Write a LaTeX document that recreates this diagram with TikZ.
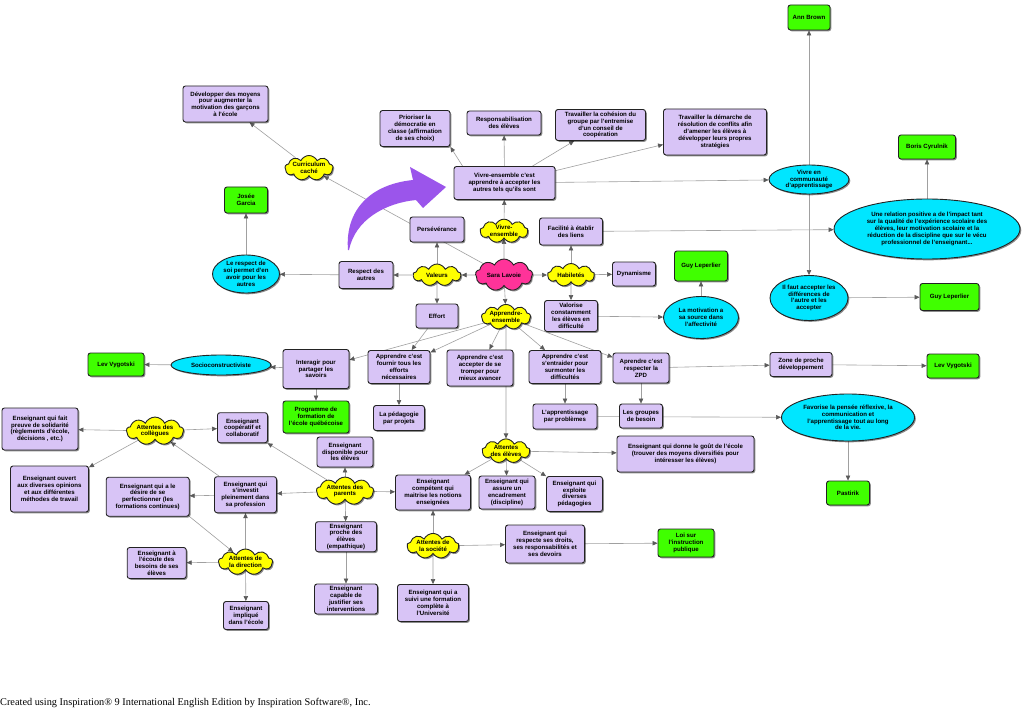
\documentclass[tikz,border=0pt]{standalone}
\usepackage{fontspec}
\setmainfont{Liberation Sans}
\newfontfamily\footfont{Liberation Serif}
\usetikzlibrary{shapes.geometric,shapes.symbols,shadows,arrows.meta}
\definecolor{lav}{RGB}{216,196,246}
\definecolor{grn}{RGB}{64,255,0}
\definecolor{cyn}{RGB}{0,230,255}
\definecolor{ylw}{RGB}{255,255,0}
\definecolor{pnk}{RGB}{255,51,153}
\definecolor{bordc}{RGB}{35,35,35}
\definecolor{edgec}{RGB}{160,160,160}
\definecolor{headc}{RGB}{90,90,90}
\definecolor{purp}{RGB}{155,85,235}
\pgfdeclarelayer{bglayer}
\pgfdeclarelayer{edgelayer}
\pgfsetlayers{bglayer,edgelayer,main}
\tikzset{
 base/.style={draw=bordc, line width=0.9pt, font=\bfseries\fontsize{6.1}{6.8}\selectfont, align=center, inner sep=0.5pt, text=black,
   drop shadow={shadow xshift=1.3pt,shadow yshift=-1.3pt,fill=black,opacity=0.45}},
 box/.style={base, rectangle, rounded corners=2.5pt, fill=lav},
 gbox/.style={base, rectangle, rounded corners=2.5pt, fill=grn},
 ell/.style={base, ellipse, fill=cyn, inner sep=0pt},
 cl/.style={base, cloud, cloud puffs=9, cloud puff arc=130, cloud ignores aspect, fill=ylw, inner sep=0pt},
 wh/.style 2 args={minimum width=#1pt, minimum height=#2pt},
 conn/.style={draw=edgec, line width=0.6pt, -{Triangle[length=5pt,width=4.4pt,color=headc]}}
}
\begin{document}
\begin{tikzpicture}[x=1pt,y=-1pt]
\begin{pgfonlayer}{bglayer}
\fill[white] (0,0) rectangle (1024,711);
\end{pgfonlayer}
\path[use as bounding box] (0,0) rectangle (1024,711);

% top-left
\node[box, wh={85}{36}] (dev) at (225.5,104) {Développer des moyens\\pour augmenter la\\motivation des  garçons\\à l'école};
\node[cl, wh={48}{22}] (curr) at (309,168) {Curriculum\\caché};
\node[gbox, wh={43}{26}] (josee) at (246,200) {Josée\\Garcia};
\node[ell, wh={67}{38}] (soi) at (246,274) {Le respect de\\soi permet d'en\\avoir pour les\\autres};
\node[box, wh={54}{27}] (respect) at (366,275) {Respect des\\autres};
\node[cl, wh={48}{22}] (valeurs) at (437,275) {Valeurs};
\node[box, wh={54}{25}] (pers) at (437,229.5) {Persévérance};
\node[box, wh={42}{24}] (effort) at (437,316) {Effort};
\node[cl, fill=pnk, wh={57}{32}] (sara) at (504,275) {Sara Lavoie};
\node[cl, wh={48}{23}] (vivcl) at (504,231) {Vivre-\\ensemble};
\node[cl, wh={49}{22}] (appcl) at (506,317) {Apprendre-\\ensemble};

% top
\node[box, wh={70}{36}] (prio) at (415,128.5) {Prioriser la\\démocratie  en\\classe (affirmation\\de ses choix)};
\node[box, wh={74}{24}] (resp) at (504,123) {Responsabilisation\\des élèves};
\node[box, wh={90}{31}] (coh) at (600.5,125) {Travailler la cohésion du\\groupe par l'entremise\\d'un conseil de\\coopération};
\node[box, wh={103}{46}] (dem) at (715,132) {Travailler la démarche de\\résolution de conflits  afin\\d'amener les élèves à\\développer leurs propres\\stratégies};
\node[box, wh={101}{33}] (vivc) at (504.5,183) {Vivre-ensemble c'est\\apprendre à accepter les\\autres tels qu'ils sont};
\node[box, wh={63}{27}] (fac) at (571,231.5) {Facilité à établir\\des liens};
\node[cl, wh={47}{23}] (hab) at (571,275) {Habiletés};
\node[box, wh={43}{24}] (dyn) at (634,274) {Dynamisme};
\node[gbox, wh={53}{30}] (guy1) at (701,266) {Guy Leperlier};

% right
\node[gbox, wh={42}{25}] (ann) at (809,17.5) {Ann Brown};
\node[ell, wh={80}{29}] (comm) at (809,179.5) {Vivre en\\communauté\\d'apprentissage};
\node[gbox, wh={57}{24}] (boris) at (927,147) {Boris Cyrulnik};
\node[ell, wh={186}{60}] (big) at (927,229) {Une relation positive a de l'impact  tant\\sur la qualité de l'expérience scolaire des\\élèves, leur motivation scolaire et la\\réduction de la discipline que sur le vécu\\professionnel de l'enseignant...};
\node[ell, wh={78}{45}] (ilfaut) at (809,298) {Il faut accepter les\\différences  de\\l'autre et les\\accepter};
\node[gbox, wh={59}{27}] (guy2) at (949.5,297) {Guy Leperlier};
\node[box, wh={53}{31}] (val) at (571,316) {Valorise\\constamment\\les élèves en\\difficulté};
\node[ell, wh={75}{42}] (motiv) at (701,317.5) {La motivation a\\sa source  dans\\l'affectivité};

% middle row
\node[box, wh={66}{36}] (tromp) at (480,368) {Apprendre c'est\\accepter de se\\tromper pour\\mieux avancer};
\node[box, wh={72}{33}] (entr) at (565,367) {Apprendre c'est\\s'entraider pour\\surmonter les\\difficultés};
\node[box, wh={56}{30}] (zpd) at (641,368) {Aprendre c'est\\respecter la\\ZPD};
\node[box, wh={64}{25}] (probl) at (565,416.5) {L'apprentissage\\par problèmes};
\node[box, wh={43}{24}] (grp) at (641,416) {Les groupes\\de besoin};
\node[box, wh={66}{39}] (inter) at (316,369) {Interagir pour\\partager  les\\savoirs};
\node[box, wh={62}{33}] (fourn) at (399,367) {Apprendre c'est\\fournir tous les\\efforts\\nécessaires};
\node[gbox, wh={66}{32}] (prog) at (316,417) {Programme de\\formation de\\l'école québécoise};
\node[box, wh={51}{25}] (proj) at (399,418) {La pédagogie\\par projets};
\node[box, wh={62}{24}] (zone) at (801,364.5) {Zone de proche\\développement};
\node[gbox, wh={52}{24}] (lev2) at (953,366) {Lev Vygotski};
\node[ell, wh={133}{47}] (fav) at (848,417.5) {Favorise la pensée réflexive, la\\communication et\\l'apprentissage  tout au long\\de la vie.};
\node[gbox, wh={43}{24}] (past) at (848,493) {Pastirik};
\node[gbox, wh={56}{23}] (lev1) at (116,364.5) {Lev Vygotski};
\node[ell, wh={100}{20}] (socio) at (221,365) {Socioconstructiviste};

% lower
\node[cl, wh={48}{24}] (attel) at (506,451) {Attentes\\des élèves};
\node[box, wh={56}{30}] (dispo) at (345,452) {Enseignant\\disponible pour\\les élèves};
\node[cl, wh={57}{24}] (attpar) at (345,491) {Attentes des\\parents};
\node[box, wh={75}{35}] (comp) at (433,492.5) {Enseignant\\compétent qui\\maitrise  les notions\\enseignées};
\node[box, wh={56}{33}] (enc) at (507,492.5) {Enseignant qui\\assure un\\encadrement\\(discipline)};
\node[box, wh={56}{35}] (expl) at (574.5,494) {Enseignant qui\\exploite\\diverses\\pédagogies};
\node[box, wh={137}{36}] (gout) at (685.5,454) {Enseignant qui donne le goût de l'école\\(trouver des moyens diversifiés pour\\intéresser les élèves)};
\node[cl, wh={52}{22}] (attsoc) at (433,546) {Attentes de\\la société};
\node[box, wh={79}{38}] (droits) at (545,544) {Enseignant  qui\\respecte  ses droits,\\ses responsabilités  et\\ses devoirs};
\node[gbox, wh={56}{28}] (loi) at (686,543) {Loi sur\\l'instruction\\publique};
\node[box, wh={71}{37}] (suivi) at (433,603) {Enseignant qui a\\suivi une formation\\complète à\\l'Université};
\node[box, wh={76}{42}] (solid) at (40,429) {Enseignant qui fait\\preuve de  solidarité\\(règlements d'école,\\décisions , etc.)};
\node[cl, wh={57}{24}] (attcol) at (155,431) {Attentes des\\collègues};
\node[box, wh={50}{30}] (coop) at (242.5,427.7) {Enseignant\\coopératif et\\collaboratif};
\node[box, wh={78}{46}] (ouvert) at (49.5,489) {Enseignant  ouvert\\aux diverses opinions\\et aux différentes\\méthodes de travail};
\node[box, wh={83}{39}] (desir) at (147.7,496.7) {Enseignant qui a le\\désire de se\\perfectionner (les\\formations continues)};
\node[box, wh={62}{36}] (invest) at (245.5,494.7) {Enseignant qui\\s'investit\\pleinement  dans\\sa profession};
\node[cl, wh={54}{26}] (attdir) at (245.5,562) {Attentes de\\la direction};
\node[box, wh={59}{31}] (ecoute) at (156.7,563) {Enseignant  à\\l'écoute des\\besoins de ses\\élèves};
\node[box, wh={45}{28}] (impl) at (246,615.5) {Enseignant\\impliqué\\dans l'école};
\node[box, wh={61}{30}] (proche) at (346,536.7) {Enseignant\\proche des\\élèves\\(empathique)};
\node[box, wh={63}{30}] (justif) at (346,599) {Enseignant\\capable de\\justifier  ses\\interventions};

% purple arrow
\fill[purp] (348,250) .. controls (345,215) and (365,185) .. (413,180) -- (410,167) -- (446,187) -- (423,208) -- (416,200) .. controls (385,203) and (355,220) .. (349,250) -- cycle;

% footer
\node[anchor=west, inner sep=0pt, font=\footfont\fontsize{10.3}{11}\selectfont] (foot) at (0,703) {Created using Inspiration® 9 International English Edition by Inspiration Software®, Inc.};

\begin{pgfonlayer}{edgelayer}
\draw[conn] (sara) -- (curr);
\draw[conn] (curr) -- (dev);
\draw[conn] (sara) -- (valeurs);
\draw[conn] (sara) -- (hab);
\draw[conn] (sara) -- (vivcl);
\draw[conn] (sara) -- (appcl);
\draw[conn] (valeurs) -- (pers);
\draw[conn] (valeurs) -- (respect);
\draw[conn] (valeurs) -- (effort);
\draw[conn] (respect) -- (soi);
\draw[conn] (soi) -- (josee);
\draw[conn] (vivcl) -- (vivc);
\draw[conn] (vivc.158) -- (prio.south east);
\draw[conn] (vivc) -- (resp);
\draw[conn] (vivc) -- (coh);
\draw[conn] (vivc) -- (dem);
\draw[conn] (vivc) -- (comm);
\draw[conn] (comm) -- (ann);
\draw[conn] (comm) -- (ilfaut);
\draw[conn] (ilfaut) -- (guy2);
\draw[conn] (big) -- (boris);
\draw[conn] (fac) -- (big);
\draw[conn] (hab) -- (fac);
\draw[conn] (hab) -- (dyn);
\draw[conn] (hab) -- (val);
\draw[conn] (val) -- (motiv);
\draw[conn] (motiv) -- (guy1);
\draw[conn] (appcl) -- (inter);
\draw[conn] (appcl) -- (fourn);
\draw[conn] (effort) -- (fourn);
\draw[conn] (appcl) -- (tromp);
\draw[conn] (appcl) -- (entr);
\draw[conn] (appcl) -- (zpd);
\draw[conn] (appcl) -- (attel);
\draw[conn] (inter) -- (socio);
\draw[conn] (socio) -- (lev1);
\draw[conn] (inter) -- (prog);
\draw[conn] (fourn) -- (proj);
\draw[conn] (entr) -- (probl);
\draw[conn] (zpd) -- (grp);
\draw[conn] (zpd) -- (zone);
\draw[conn] (zone) -- (lev2);
\draw[conn] (probl) -- (fav);
\draw[conn] (fav) -- (past);
\draw[conn] (attel) -- (gout);
\draw[conn] (attel) -- (comp);
\draw[conn] (attel) -- (enc);
\draw[conn] (attel) -- (expl);
\draw[conn] (attsoc) -- (comp);
\draw[conn] (attsoc) -- (droits);
\draw[conn] (attsoc) -- (suivi);
\draw[conn] (droits) -- (loi);
\draw[conn] (attpar) -- (dispo);
\draw[conn] (attpar) -- (comp);
\draw[conn] (attpar) -- (proche);
\draw[conn] (attpar) -- (invest);
\draw[conn] (attpar) -- (coop);
\draw[conn] (proche) -- (justif);
\draw[conn] (attcol) -- (solid);
\draw[conn] (attcol) -- (coop);
\draw[conn] (attcol) -- (ouvert);
\draw[conn] (invest) -- (attcol);
\draw[conn] (invest) -- (desir);
\draw[conn] (attdir) -- (invest);
\draw[conn] (desir.south east) -- (attdir);
\draw[conn] (attdir) -- (ecoute);
\draw[conn] (attdir) -- (impl);
\end{pgfonlayer}
\end{tikzpicture}
\end{document}
